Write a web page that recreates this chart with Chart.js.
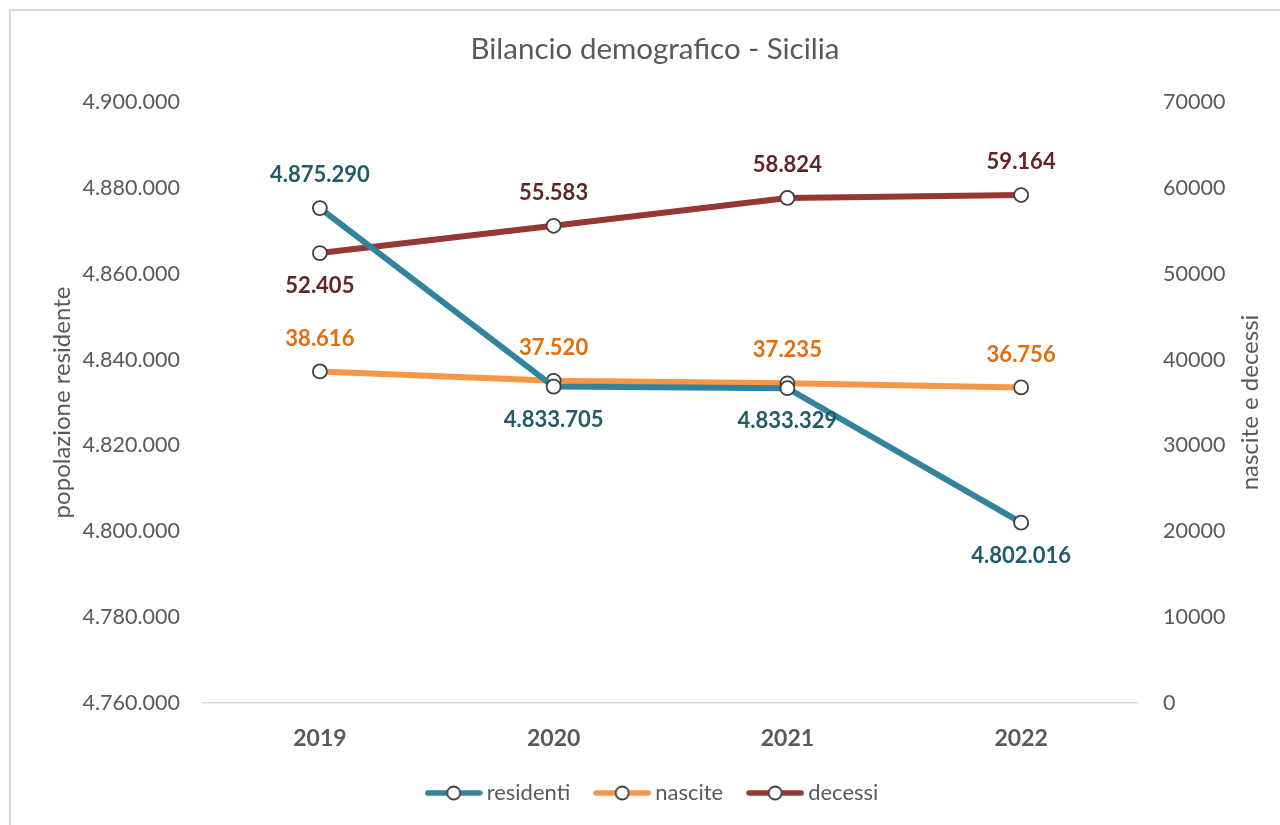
<!DOCTYPE html>
<html>
<head>
<meta charset="utf-8">
<script src="https://cdn.jsdelivr.net/npm/chart.js@4.4.0/dist/chart.umd.min.js"></script>
<style>
    html, body { margin: 0; padding: 0; background: #fff; overflow: hidden; }
    #frame {
        position: absolute; left: 9px; top: 9px; width: 1300px; height: 850px;
        border: 2px solid #d9d9d9; box-sizing: border-box;
    }
    #wrap { position: absolute; left: 0; top: 0; width: 1310px; height: 825px; }
</style>
</head>
<body>
<div id="frame"></div>
<div id="wrap"><canvas id="chart" width="1310" height="825"></canvas></div>
<script>
// dati
const anni = ['2019', '2020', '2021', '2022'];
const residenti = [4875290, 4833705, 4833329, 4802016];
const nascite = [38616, 37520, 37235, 36756];
const decessi = [52405, 55583, 58824, 59164];

// posizione etichette: -1 sopra, 1 sotto
const posResidenti = [-1, 1, 1, 1];
const posNascite = [-1, -1, -1, -1];
const posDecessi = [1, -1, -1, -1];

const FONT = 'Lato, "Open Sans", sans-serif';
const GRIGIO = '#595959';

function formatIt(v) {
    return Math.round(v).toString().replace(/\B(?=(\d{3})+(?!\d))/g, '.');
}

// icona legenda: linea con cerchio
function legendIcon(color) {
    const c = document.createElement('canvas');
    c.width = 58;
    c.height = 18;
    const g = c.getContext('2d');
    g.strokeStyle = color;
    g.lineWidth = 5.5;
    g.lineCap = 'round';
    g.beginPath();
    g.moveTo(3, 9);
    g.lineTo(55, 9);
    g.stroke();
    g.beginPath();
    g.arc(29, 9, 6.5, 0, Math.PI * 2);
    g.fillStyle = '#fff';
    g.fill();
    g.lineWidth = 1.8;
    g.strokeStyle = '#404040';
    g.stroke();
    return c;
}

// etichette dati
const dataLabels = {
    id: 'dataLabels',
    afterDatasetsDraw(chart) {
        const ctx = chart.ctx;
        ctx.save();
        ctx.font = 'bold 22px ' + FONT;
        ctx.textAlign = 'center';
        ctx.textBaseline = 'middle';
        chart.data.datasets.forEach((ds, i) => {
            const meta = chart.getDatasetMeta(i);
            meta.data.forEach((pt, j) => {
                ctx.fillStyle = ds.labelColor;
                ctx.fillText(formatIt(ds.data[j]), pt.x, pt.y + ds.labelPos[j] * 33);
            });
        });
        ctx.restore();
    }
};

// titolo asse destro (ruotato come quello sinistro)
const rightTitle = {
    id: 'rightTitle',
    afterDraw(chart) {
        const s = chart.scales.y2;
        const ctx = chart.ctx;
        ctx.save();
        ctx.translate(1250, (s.top + s.bottom) / 2);
        ctx.rotate(-Math.PI / 2);
        ctx.font = '24px ' + FONT;
        ctx.fillStyle = GRIGIO;
        ctx.textAlign = 'center';
        ctx.textBaseline = 'middle';
        ctx.fillText('nascite e decessi', 0, 0);
        ctx.restore();
    }
};

const serie = [
    { label: 'residenti', data: residenti, color: '#31849b', labelColor: '#215a69', axis: 'y', pos: posResidenti },
    { label: 'nascite', data: nascite, color: '#f79646', labelColor: '#e46c0a', axis: 'y2', pos: posNascite },
    { label: 'decessi', data: decessi, color: '#953735', labelColor: '#632523', axis: 'y2', pos: posDecessi }
];

new Chart(document.getElementById('chart'), {
    type: 'line',
    data: {
        labels: anni,
        datasets: serie.map(s => ({
            label: s.label,
            data: s.data,
            yAxisID: s.axis,
            borderColor: s.color,
            backgroundColor: s.color,
            borderWidth: 6,
            pointRadius: 7,
            pointBorderWidth: 1.8,
            pointBackgroundColor: '#fff',
            pointBorderColor: '#404040',
            pointStyle: 'circle',
            legendIcon: legendIcon(s.color),
            labelColor: s.labelColor,
            labelPos: s.pos,
            tension: 0
        }))
    },
    options: {
        responsive: false,
        animation: false,
        layout: { padding: { left: 0, right: 0, top: 0, bottom: 11 } },
        plugins: {
            title: {
                display: true,
                text: 'Bilancio demografico - Sicilia',
                color: GRIGIO,
                font: { family: FONT, size: 29.5, weight: 'normal' },
                padding: { top: 32, bottom: 34.6 }
            },
            legend: {
                position: 'bottom',
                labels: {
                    usePointStyle: true,
                    pointStyleWidth: 44,
                    color: GRIGIO,
                    font: { family: FONT, size: 22 },
                    padding: 30,
                    generateLabels(chart) {
                        return chart.data.datasets.map((ds, i) => ({
                            text: ds.label,
                            pointStyle: ds.legendIcon,
                            fillStyle: ds.borderColor,
                            strokeStyle: ds.borderColor,
                            lineWidth: 0,
                            fontColor: GRIGIO,
                            hidden: false,
                            datasetIndex: i
                        }));
                    }
                }
            },
            tooltip: { enabled: false }
        },
        scales: {
            x: {
                offset: true,
                grid: { display: false, drawTicks: false },
                border: { display: true, color: '#d9d9d9', width: 1.5 },
                ticks: { color: GRIGIO, font: { family: FONT, size: 23, weight: 'bold' }, padding: 22 },
                afterFit(scale) { scale.height = 49; }
            },
            y: {
                position: 'left',
                min: 4760000,
                max: 4900000,
                grid: { display: false, drawTicks: false },
                border: { display: false },
                ticks: {
                    stepSize: 20000,
                    color: GRIGIO,
                    font: { family: FONT, size: 21.5 },
                    padding: 23,
                    callback: v => formatIt(v)
                },
                title: {
                    display: true,
                    text: 'popolazione residente',
                    color: GRIGIO,
                    font: { family: FONT, size: 24, weight: 'normal' },
                    padding: { top: 47.6, bottom: 0 }
                },
                afterFit(scale) { scale.width = 203; }
            },
            y2: {
                position: 'right',
                min: 0,
                max: 70000,
                grid: { display: false, drawTicks: false },
                border: { display: false },
                ticks: {
                    stepSize: 10000,
                    color: GRIGIO,
                    font: { family: FONT, size: 21.5 },
                    padding: 25,
                    callback: v => String(v)
                },
                afterFit(scale) { scale.width = 172; }
            }
        }
    },
    plugins: [dataLabels, rightTitle]
});
</script>
</body>
</html>
